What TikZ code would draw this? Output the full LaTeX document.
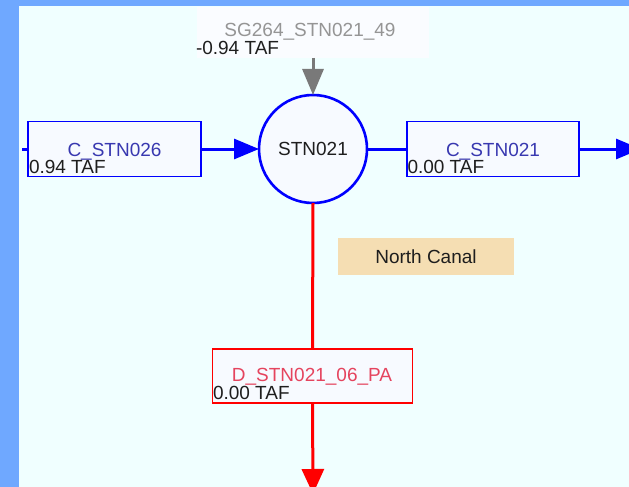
\documentclass[tikz,border=0pt]{standalone}
\usepackage{fontspec}
\setmainfont{Liberation Sans}
\usetikzlibrary{arrows.meta}

\definecolor{frameblue}{HTML}{6FA8FF}
\definecolor{canvas}{HTML}{F0FFFF}
\definecolor{boxfill}{HTML}{F7FAFF}
\definecolor{channame}{HTML}{3838B0}
\definecolor{divname}{HTML}{E5445E}
\definecolor{srcname}{HTML}{959595}
\definecolor{darktext}{HTML}{1E1E1E}
\definecolor{canalfill}{HTML}{F5DEB3}

\tikzset{
  every node/.style={font=\fontsize{19}{22}\selectfont, inner sep=0pt, outer sep=0pt},
  chanbox/.style={draw=blue, line width=1.4pt, fill=boxfill},
  divbox/.style={draw=red, line width=1.4pt, fill=boxfill},
  srcbox/.style={fill=boxfill!60!white},
  chanlabel/.style={text=channame, anchor=base},
  divlabel/.style={text=divname, anchor=base},
  srclabel/.style={text=srcname, anchor=base},
  flowval/.style={text=darktext, anchor=base west},
  bluecon/.style={draw=blue, line width=3pt},
  redcon/.style={draw=red, line width=3pt},
  graycon/.style={draw=gray!95!black, line width=3pt},
  headtip/.style={-{Triangle[length=25pt,width=20pt]}},
}

\begin{document}
\begin{tikzpicture}[x=1pt, y=-1pt]
  % frame and canvas
  \path[use as bounding box] (0,0) rectangle (629,487);
  \clip (0,0) rectangle (629,487);
  \fill[frameblue] (0,0) rectangle (629,487);
  \fill[canvas] (19,6) rectangle (640,500);

  % inflow source box
  \node[srcbox, minimum width=232pt, minimum height=51pt] (sg) at (313,32.5) {};
  \node[srclabel] (sgname) at (310,37) {SG264\_STN021\_49};
  \node[flowval] (sgval) at (196,54.5) {-0.94 TAF};

  % central node
  \node[circle, draw=blue, line width=2.6pt, fill=boxfill, minimum size=108pt, text=darktext] (stn) at (313,149) {STN021};

  % upstream channel
  \node[chanbox, minimum width=173pt, minimum height=55pt] (cin) at (114.5,149) {};
  \node[chanlabel] (cinname) at (114.5,156) {C\_STN026};
  \node[flowval] (cinval) at (29,173) {0.94 TAF};

  % downstream channel
  \node[chanbox, minimum width=172pt, minimum height=55pt] (cout) at (493,149) {};
  \node[chanlabel] (coutname) at (493,156) {C\_STN021};
  \node[flowval] (coutval) at (407.5,173) {0.00 TAF};

  % diversion
  \node[divbox, minimum width=200pt, minimum height=54pt] (div) at (312.5,376) {};
  \node[divlabel] (divname) at (312,381) {D\_STN021\_06\_PA};
  \node[flowval] (divval) at (213,399) {0.00 TAF};

  % region tag
  \node[fill=canalfill, minimum width=176pt, minimum height=37pt, text=darktext] (canal) at (426,256.5) {North Canal};

  % open ends of connectors
  \coordinate (inL) at (22,149);
  \coordinate (outR) at (641,149);
  \coordinate (outB) at (313,494);

  % connectors
  \draw[bluecon] (inL) -- (cin.west);
  \draw[bluecon, headtip] (cin.east) -- (stn.west);
  \draw[bluecon] (stn.east) -- (cout.west);
  \draw[bluecon, headtip] (cout.east) -- (outR);
  \draw[graycon, -{Triangle[length=26pt,width=21pt]}] (sg.south) -- (stn.north);
  \draw[redcon] (stn.south) -- (div.north);
  \draw[redcon, -{Triangle[length=25pt,width=22pt]}] (div.south) -- (outB);
\end{tikzpicture}
\end{document}
